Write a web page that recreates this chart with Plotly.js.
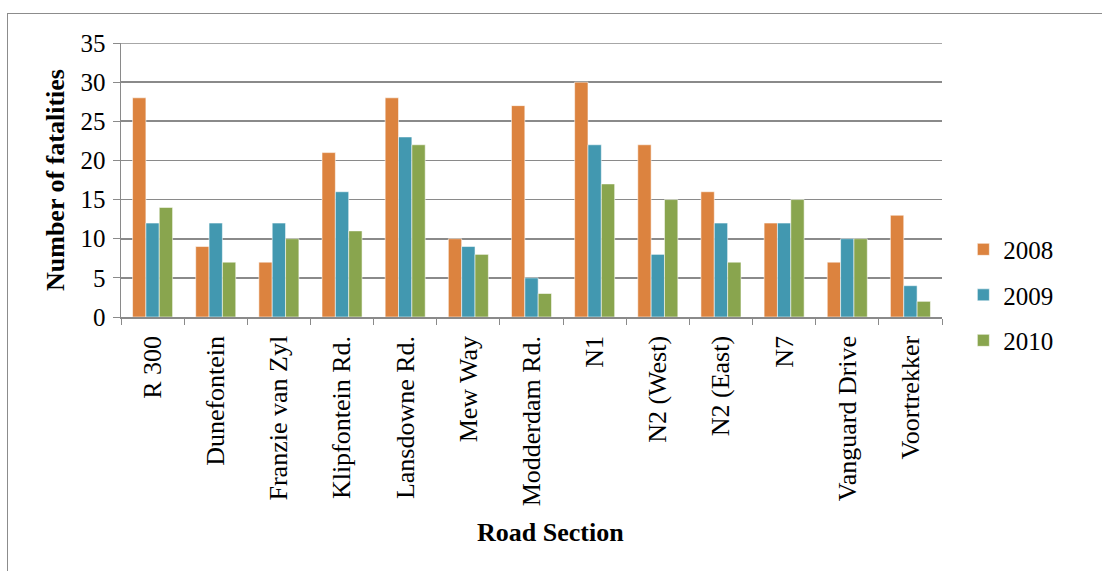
<!DOCTYPE html>
<html><head><meta charset="utf-8">
<script src="https://cdn.plot.ly/plotly-3.0.1.min.js"></script>
<style>
body{margin:0;background:#fff;}
#wrap{position:relative;width:1102px;height:571px;overflow:hidden;}
#chart{width:1102px;height:571px;}
#frame{position:absolute;left:7px;top:13px;width:1200px;height:700px;border:1px solid #8c8c8c;pointer-events:none;}
</style></head>
<body>
<div id="wrap"><div id="chart"></div><div id="frame"></div></div>
<script>
const categories = ["R 300","Dunefontein","Franzie van Zyl","Klipfontein Rd.","Lansdowne Rd.","Mew Way","Modderdam Rd.","N1","N2 (West)","N2 (East)","N7","Vanguard Drive","Voortrekker"];
const seriesNames = ["2008","2009","2010"];
const values2008 = [28, 9, 7, 21, 28, 10, 27, 30, 22, 16, 12, 7, 13];
const values2009 = [12, 12, 12, 16, 23, 9, 5, 22, 8, 12, 12, 10, 4];
const values2010 = [14, 7, 10, 11, 22, 8, 3, 17, 15, 7, 15, 10, 2];
const yTicks = [0,5,10,15,20,25,30,35];

const colors = ["#DC833F", "#4298B0", "#89A54E"];
const allValues = [values2008, values2009, values2010];
const serif = "'Liberation Serif','Times New Roman',serif";
const gridColor = "#8a8a8a";

const traces = allValues.map((v, i) => ({
  type: "bar",
  name: seriesNames[i],
  x: categories,
  y: v,
  legendgroup: "g" + i,
  marker: {color: colors[i], line: {color: "rgba(255,255,255,0.55)", width: 1}}
}));

const W = 1102, H = 571;
const L = 121, R = 160, T = 43, B = 254;
const yMax = yTicks[yTicks.length - 1];

const layout = {
  width: W, height: H,
  margin: {l: L, r: R, t: T, b: B},
  paper_bgcolor: "#fff", plot_bgcolor: "#fff",
  font: {family: serif, color: "#000", size: 24},
  barmode: "group",
  bargap: 0.366, bargroupgap: 0,
  showlegend: true,
  legend: {x: 1.026, xanchor: "left", y: 0.33, yanchor: "top",
           font: {family: serif, size: 25}, tracegroupgap: 10, traceorder: "grouped",
           bgcolor: "rgba(0,0,0,0)"},
  xaxis: {
    type: "category",
    tickangle: -90,
    ticks: "outside", tickson: "boundaries", ticklen: 6, tickcolor: gridColor,
    showline: true, linecolor: gridColor, linewidth: 1.5,
    showgrid: false, zeroline: false,
    tickfont: {family: serif, size: 26},
    ticklabelstandoff: 7,
    fixedrange: true
  },
  yaxis: {
    range: [0, yMax], tickvals: yTicks, ticktext: yTicks.map(String),
    ticks: "outside", ticklen: 7, tickcolor: gridColor,
    showline: true, linecolor: gridColor, linewidth: 1.5,
    showgrid: true, gridcolor: gridColor, gridwidth: 1.6,
    zeroline: false,
    tickfont: {family: serif, size: 25},
    ticklabelstandoff: 2,
    fixedrange: true
  },
  shapes: [
    {type: "line", xref: "paper", yref: "y", x0: 0, x1: 1, y0: yMax, y1: yMax,
     line: {color: gridColor, width: 1.6}, layer: "below"}
  ],
  annotations: [
    {text: "<b>Number of fatalities</b>", xref: "paper", yref: "paper",
     x: (55 - L) / (W - L - R), y: ((H - B) - 180) / (H - T - B), textangle: -90,
     showarrow: false, xanchor: "center", yanchor: "middle",
     font: {family: serif, size: 26}},
    {text: "<b>Road Section</b>", xref: "paper", yref: "paper",
     x: (550 - L) / (W - L - R), y: -(532 - (H - B)) / (H - T - B),
     showarrow: false, xanchor: "center", yanchor: "middle",
     font: {family: serif, size: 26}}
  ]
};

Plotly.newPlot("chart", traces, layout, {displayModeBar: false, staticPlot: true});
</script>
</body></html>
